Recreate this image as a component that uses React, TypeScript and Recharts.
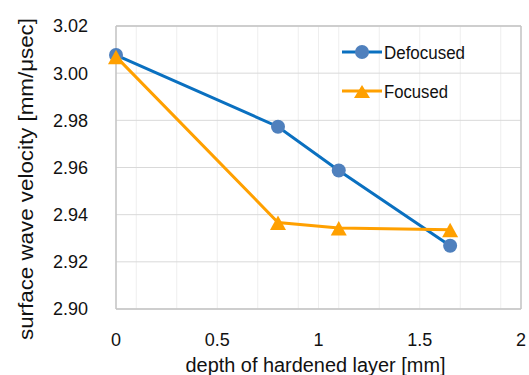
import React from 'react';
import { LineChart, Line, XAxis, YAxis, CartesianGrid, ReferenceLine } from 'recharts';

const depths = [0, 0.8, 1.1, 1.65];
const defocused = [3.0077, 2.9773, 2.9587, 2.9268];
const focused = [3.007, 2.9367, 2.9343, 2.9336];
const xTicks = [0, 0.5, 1, 1.5, 2];
const xMinorTicks = [0, 0.1, 0.2, 0.3, 0.4, 0.5, 0.6, 0.7, 0.8, 0.9, 1, 1.1, 1.2, 1.3, 1.4, 1.5, 1.6, 1.7, 1.8, 1.9, 2];
const yTicks = [2.9, 2.92, 2.94, 2.96, 2.98, 3.0, 3.02];
const seriesNames = ['Defocused', 'Focused'];
const xTitle = 'depth of hardened layer [mm]';
const yTitle = 'surface wave velocity [mm/\u03bcsec]';

const data = depths.map((d, i) => ({ depth: d, Defocused: defocused[i], Focused: focused[i] }));

const FONT = '"Liberation Sans", Arial, sans-serif';
const BLUE_LINE = '#0a70c0';
const BLUE_DOT = '#4f80bd';
const ORANGE = '#ffa000';
const TEXT = '#111';

const Circle = (props: any) => {
  const { cx, cy, index } = props;
  if (cx == null || cy == null) return null;
  return <circle key={`c${index}`} cx={cx} cy={cy} r={7} fill={BLUE_DOT} stroke="none" />;
};

const Tri = (props: any) => {
  const { cx, cy, index } = props;
  if (cx == null || cy == null) return null;
  return (
    <polygon
      key={`t${index}`}
      points={`${cx},${cy - 7} ${cx - 8},${cy + 7.5} ${cx + 8},${cy + 7.5}`}
      fill={ORANGE}
      stroke="none"
    />
  );
};

const XTitle = (props: any) => {
  const vb = props.viewBox || {};
  const cx = vb.x + vb.width / 2 - 3;
  return (
    <text x={cx} y={372} textAnchor="middle" fontFamily={FONT} fontSize={20} fill={TEXT}
      textLength={260} lengthAdjust="spacingAndGlyphs">{xTitle}</text>
  );
};

const YTitle = () => {
  return (
    <text x={0} y={0} transform="translate(33,179) rotate(-90)" textAnchor="middle" fontFamily={FONT}
      fontSize={21} fill={TEXT} textLength={322} lengthAdjust="spacingAndGlyphs">{yTitle}</text>
  );
};

const LegendBox = () => (
  <svg width={529} height={375} style={{ position: 'absolute', left: 0, top: 0, pointerEvents: 'none' }}>
    <line x1={342} y1={52} x2={382} y2={52} stroke={BLUE_LINE} strokeWidth={3} />
    <circle cx={362} cy={52} r={7} fill={BLUE_DOT} />
    <text x={384} y={59} fontFamily={FONT} fontSize={18} fill={TEXT} textLength={81} lengthAdjust="spacingAndGlyphs">{seriesNames[0]}</text>
    <line x1={342} y1={91} x2={382} y2={91} stroke={ORANGE} strokeWidth={3} />
    <polygon points="362,85 354,98 370,98" fill={ORANGE} />
    <text x={384} y={98} fontFamily={FONT} fontSize={18} fill={TEXT} textLength={64} lengthAdjust="spacingAndGlyphs">{seriesNames[1]}</text>
  </svg>
);

export default function App() {
  return (
    <div style={{ position: 'absolute', left: 0, top: 0, width: 529, height: 375, background: '#fff' }}>
      <LineChart width={529} height={375} data={data} margin={{ top: 26, right: 8, left: 0, bottom: 0 }}>
        <CartesianGrid xAxisId="minor" horizontal={false} stroke="#eeeeee" strokeWidth={1} />
        <CartesianGrid vertical={false} stroke="#d9d9d9" strokeWidth={1} />
        <XAxis
          xAxisId="minor"
          type="number"
          dataKey="depth"
          domain={[0, 2]}
          ticks={xMinorTicks}
          hide
        />
        <XAxis
          type="number"
          dataKey="depth"
          domain={[0, 2]}
          ticks={xTicks}
          tickLine={false}
          axisLine={{ stroke: '#c4c4c4', strokeWidth: 1.5 }}
          height={66}
          tick={{ fontFamily: FONT, fontSize: 18, fill: TEXT }}
          tickFormatter={(v: number) => String(v)}
          tickMargin={18}
          label={<XTitle />}
        />
        <YAxis
          type="number"
          domain={[2.9, 3.02]}
          ticks={yTicks}
          width={116}
          tickLine={false}
          axisLine={{ stroke: '#c4c4c4', strokeWidth: 1.5 }}
          tick={{ fontFamily: FONT, fontSize: 18, fill: TEXT }}
          tickFormatter={(v: number) => v.toFixed(2)}
          tickMargin={22}
          label={<YTitle />}
        />
        <ReferenceLine x={2} stroke="#c4c4c4" strokeWidth={1.5} />
        <ReferenceLine y={3.02} stroke="#c4c4c4" strokeWidth={1.5} />
        <Line
          dataKey="Defocused"
          stroke={BLUE_LINE}
          strokeWidth={3}
          dot={Circle}
          activeDot={false}
          isAnimationActive={false}
        />
        <Line
          dataKey="Focused"
          stroke={ORANGE}
          strokeWidth={3}
          dot={Tri}
          activeDot={false}
          isAnimationActive={false}
        />
      </LineChart>
      <LegendBox />
    </div>
  );
}
